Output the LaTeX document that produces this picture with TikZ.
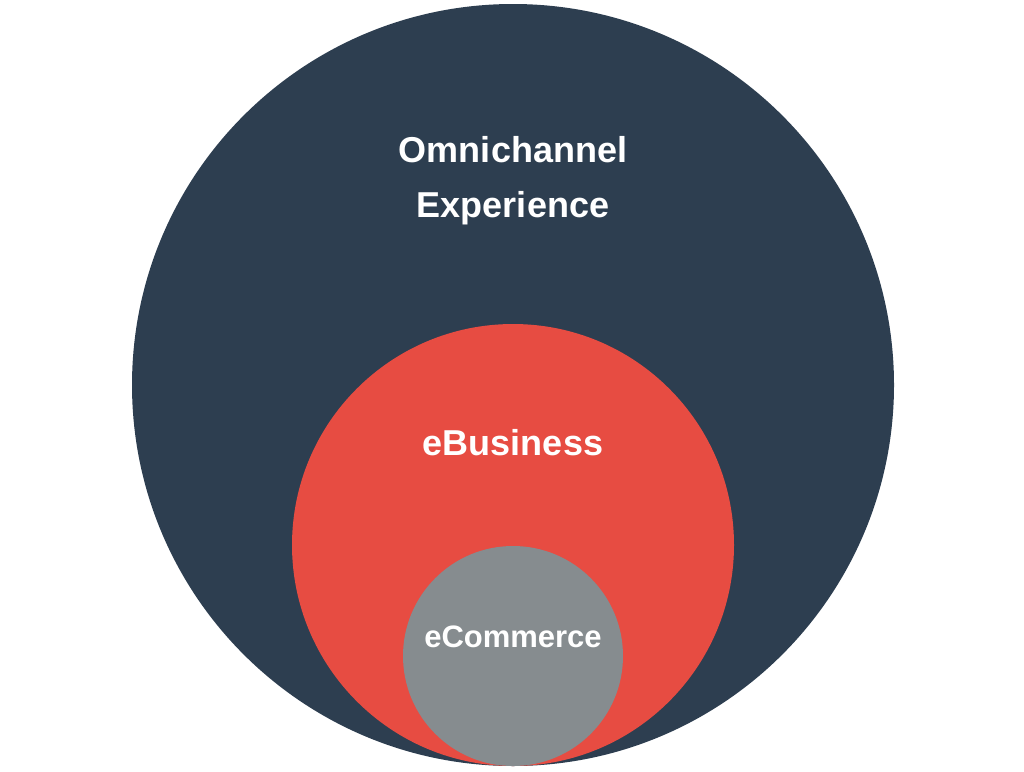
\documentclass[tikz,border=0pt]{standalone}
\usepackage{fontspec}
\setmainfont{Liberation Sans}
\usepackage{tikz}
\usetikzlibrary{positioning}

\definecolor{navy}{HTML}{2D3E50}
\definecolor{coral}{HTML}{E74C42}
\definecolor{slate}{HTML}{868C8F}

\begin{document}
\begin{tikzpicture}[
    x=1pt, y=-1pt,
    ring/.style={circle, inner sep=0pt, outer sep=0pt},
    caption/.style={text=white, font=\bfseries\fontsize{36}{55}\selectfont, align=center, inner sep=0pt}
]
\useasboundingbox (0,0) rectangle (1024,771);
\node[ring, fill=navy, minimum size=762pt] (omni) at (513,385) {};
\node[ring, fill=coral, minimum size=442pt] (ebiz) at (513,545) {};
\node[ring, fill=slate, minimum size=220pt] (ecom) at (513,656) {};

\node[caption] (omnitext) at (513,181) {Omnichannel\\Experience};
\node[caption] (ebiztext) at (513,443) {eBusiness};
\node[caption, font=\bfseries\fontsize{31}{36}\selectfont] (ecomtext) at (513,637) {eCommerce};
\end{tikzpicture}
\end{document}
